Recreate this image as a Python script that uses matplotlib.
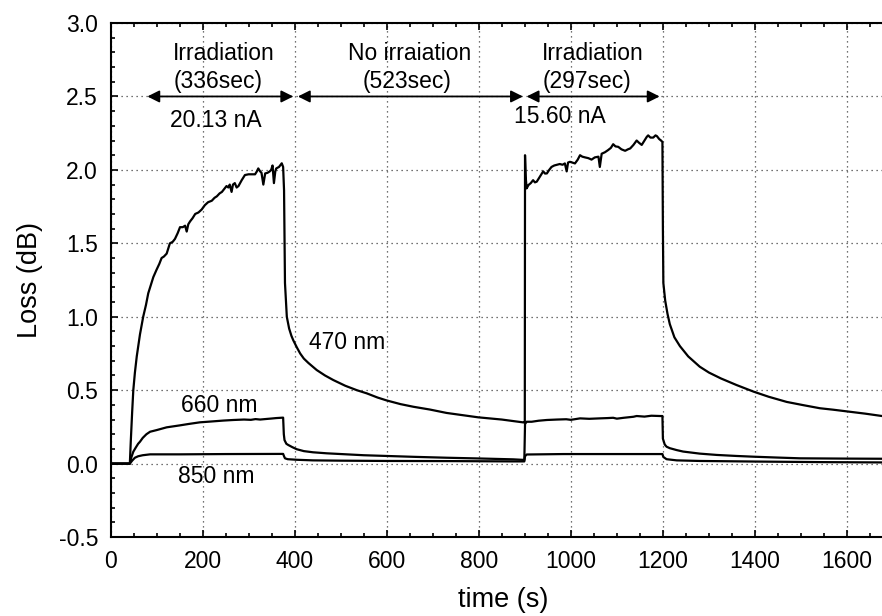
import matplotlib
matplotlib.use("Agg")
import matplotlib.pyplot as plt
from matplotlib.ticker import MultipleLocator, FormatStrFormatter

plt.rcParams['font.family'] = ['Liberation Sans', 'DejaVu Sans']
plt.rcParams['axes.unicode_minus'] = False

# 470 nm loss trace (time in s, loss in dB)
t_470 = [0, 42, 44, 47, 49.5, 53, 57, 64, 71, 77, 82, 87, 93, 100, 106, 111, 116, 122, 129, 135,
         140, 146, 151, 157, 162, 165.5, 169, 173, 178, 184, 191, 198, 205, 212, 220, 226, 231, 237,
         242, 247, 252, 256, 259, 263, 266, 270, 274, 278, 285, 292, 300, 307, 314, 318, 321, 325,
         328, 332, 336, 341, 346, 349, 352, 355, 358, 360, 366, 372, 375, 377, 379, 383, 388, 393,
         397, 405, 412, 420, 430, 448, 466, 484, 510, 535, 557, 580, 600, 630, 658, 694, 730, 765,
         799, 850, 898, 900, 900.5, 902, 904, 908, 913, 918, 922, 926, 933, 940, 944, 948, 953, 958,
         964, 970, 976, 982, 987, 991, 994, 998, 1003, 1009, 1015, 1020, 1025, 1031, 1038, 1045,
         1052, 1060, 1063, 1067, 1074, 1081, 1087, 1092, 1097, 1103, 1110, 1118, 1124, 1129, 1136,
         1143, 1148, 1154, 1160, 1165, 1168, 1173, 1179, 1184, 1187, 1192, 1196, 1199, 1200, 1201,
         1205, 1210, 1215, 1225, 1237, 1255, 1280, 1300, 1326, 1360, 1397, 1430, 1469, 1505, 1541,
         1570, 1599, 1640, 1676]
loss_470 = [0, 0, 0.15, 0.35, 0.5, 0.62, 0.73, 0.88, 1.0, 1.08, 1.16, 1.21, 1.27, 1.32, 1.36, 1.40,
            1.41, 1.43, 1.50, 1.51, 1.53, 1.57, 1.61, 1.61, 1.62, 1.58, 1.63, 1.65, 1.67, 1.70, 1.71,
            1.73, 1.76, 1.78, 1.79, 1.81, 1.82, 1.84, 1.85, 1.87, 1.89, 1.88, 1.90, 1.85, 1.90, 1.91,
            1.88, 1.89, 1.93, 1.965, 1.97, 1.97, 1.97, 1.99, 2.01, 1.99, 1.98, 1.90, 1.976, 1.98,
            1.99, 2.00, 2.03, 1.91, 1.99, 2.01, 2.02, 2.045, 2.02, 1.86, 1.23, 1.0, 0.92, 0.87, 0.84,
            0.79, 0.75, 0.715, 0.685, 0.637, 0.60, 0.569, 0.53, 0.50, 0.478, 0.45, 0.43, 0.405,
            0.387, 0.368, 0.345, 0.33, 0.315, 0.30, 0.28, 0.28, 2.10, 1.95, 1.874, 1.897, 1.91, 1.93,
            1.915, 1.92, 1.955, 1.99, 1.975, 1.976, 2.0, 2.02, 2.03, 2.035, 2.04, 2.035, 2.044, 1.99,
            2.05, 2.055, 2.05, 2.044, 2.07, 2.10, 2.09, 2.085, 2.08, 2.07, 2.085, 2.09, 2.02, 2.11,
            2.12, 2.135, 2.15, 2.175, 2.16, 2.157, 2.14, 2.13, 2.14, 2.146, 2.17, 2.20, 2.185, 2.17,
            2.20, 2.225, 2.235, 2.22, 2.22, 2.235, 2.23, 2.21, 2.20, 2.19, 1.6, 1.23, 1.11, 1.02,
            0.95, 0.86, 0.80, 0.73, 0.66, 0.62, 0.58, 0.535, 0.49, 0.455, 0.42, 0.398, 0.377, 0.367,
            0.356, 0.34, 0.324]

# 660 nm loss trace
t_660 = [0, 42, 45, 49.5, 55, 60, 64, 70, 78, 86, 100, 122, 150, 170, 194, 220, 245, 267, 290, 305,
         315, 325, 339, 350, 360, 375, 376.5, 378, 382, 386, 395, 404.5, 420, 440, 470, 513, 550,
         600, 660, 730, 800, 875, 899, 900.5, 904, 915, 930, 948, 970, 990, 1000, 1020, 1040, 1063,
         1080, 1092, 1100, 1115, 1136, 1143, 1160, 1175, 1194, 1199, 1200, 1204, 1208, 1215, 1230,
         1244, 1280, 1317, 1360, 1397, 1450, 1498, 1600, 1676]
loss_660 = [0, 0, 0.04, 0.081, 0.11, 0.135, 0.149, 0.175, 0.2, 0.217, 0.228, 0.247, 0.26, 0.27,
            0.281, 0.287, 0.293, 0.297, 0.30, 0.298, 0.303, 0.30, 0.304, 0.307, 0.31, 0.313, 0.2,
            0.16, 0.135, 0.127, 0.112, 0.098, 0.085, 0.077, 0.07, 0.063, 0.057, 0.052, 0.046, 0.04,
            0.035, 0.029, 0.025, 0.27, 0.285, 0.285, 0.292, 0.297, 0.30, 0.302, 0.298, 0.308, 0.305,
            0.308, 0.31, 0.312, 0.306, 0.312, 0.319, 0.324, 0.32, 0.326, 0.324, 0.324, 0.17, 0.13,
            0.115, 0.105, 0.092, 0.082, 0.068, 0.059, 0.052, 0.047, 0.041, 0.036, 0.034, 0.033]

# 850 nm loss trace
t_850 = [0, 42, 47, 53, 60, 70, 86, 150, 250, 375, 377, 379, 385, 405, 440, 500, 600, 738, 875, 899,
         900.5, 904, 984, 1100, 1199, 1201, 1208, 1230, 1280, 1400, 1550, 1676]
loss_850 = [0, 0, 0.02, 0.04, 0.05, 0.057, 0.063, 0.063, 0.065, 0.066, 0.05, 0.036, 0.03, 0.026,
            0.022, 0.02, 0.018, 0.017, 0.015, 0.015, 0.05, 0.062, 0.065, 0.065, 0.065, 0.045, 0.03,
            0.022, 0.018, 0.014, 0.01, 0.008]

# irradiation periods: (start, end) of each double arrow, and their captions
periods = [(80, 397), (407, 896), (904, 1193)]
period_names = ['Irradiation', 'No irraiation', 'Irradiation']
period_names_x = [247, 649, 1048]
durations = ['(336sec)', '(523sec)', '(297sec)']
durations_x = [234, 645, 1035]
currents = ['20.13 nA', '15.60 nA']
currents_x = [229, 977]
currents_y = [2.334, 2.362]

fig = plt.figure(figsize=(8.82, 6.16), dpi=100)
ax = fig.add_axes([0.1253, 0.1282, 0.8747, 0.8344])

ax.plot(t_470, loss_470, color='black', lw=1.6)
ax.plot(t_660, loss_660, color='black', lw=1.6)
ax.plot(t_850, loss_850, color='black', lw=1.6)

ax.set_xlim(0, 1676)
ax.set_ylim(-0.5, 3.0)
ax.xaxis.set_major_locator(MultipleLocator(200))
ax.xaxis.set_minor_locator(MultipleLocator(50))
ax.yaxis.set_major_locator(MultipleLocator(0.5))
ax.yaxis.set_minor_locator(MultipleLocator(0.1))
ax.yaxis.set_major_formatter(FormatStrFormatter('%.1f'))

ax.grid(True, which='major', color='#444444', linestyle=(0, (1, 3)), linewidth=0.9)
ax.tick_params(which='both', direction='in', top=True, right=False, width=1.2, labelsize=16.5)
ax.tick_params(which='major', length=5)
ax.tick_params(which='minor', length=3)
ax.tick_params(axis='x', pad=9)
ax.tick_params(axis='y', pad=9)
for s in ['left', 'bottom', 'top']:
    ax.spines[s].set_linewidth(1.5)
ax.spines['right'].set_visible(False)

ax.set_xlabel('time (s)', fontsize=19.5)
ax.set_ylabel('Loss (dB)', fontsize=19.5)
ax.xaxis.set_label_coords(0.509, -0.098)
ax.yaxis.set_label_coords(-0.087, 0.5)

for (a, b) in periods:
    ax.annotate('', xy=(b, 2.5), xytext=(a, 2.5),
                arrowprops=dict(arrowstyle='<|-|>', color='black', lw=1.3,
                                mutation_scale=18, shrinkA=0, shrinkB=0))
for name, x in zip(period_names, period_names_x):
    ax.text(x, 2.795, name, ha='center', va='center', fontsize=16.5)
for dur, x in zip(durations, durations_x):
    ax.text(x, 2.604, dur, ha='center', va='center', fontsize=16.5)
for cur, x, y in zip(currents, currents_x, currents_y):
    ax.text(x, y, cur, ha='center', va='center', fontsize=16.5)

ax.text(513, 0.823, '470 nm', ha='center', va='center', fontsize=16.5)
ax.text(236, 0.399, '660 nm', ha='center', va='center', fontsize=16.5)
ax.text(229, -0.091, '850 nm', ha='center', va='center', fontsize=16.5)

fig.savefig('out.png', dpi=100)
